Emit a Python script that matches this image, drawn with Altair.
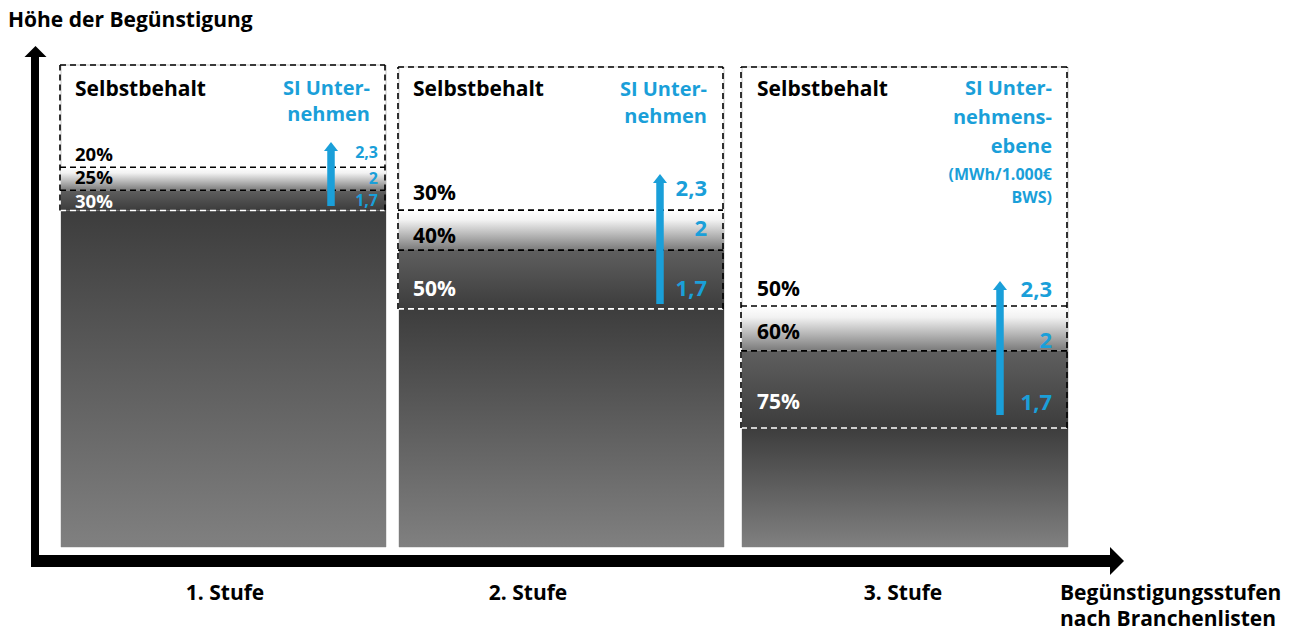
import altair as alt
import pandas as pd

# ---------------- data ----------------
stufen = ["1. Stufe", "2. Stufe", "3. Stufe"]
selbstbehalt = [["20%", "25%", "30%"], ["30%", "40%", "50%"], ["50%", "60%", "75%"]]
si_werte = ["2,3", "2", "1,7"]
si_titel = [["SI Unter-", "nehmen"], ["SI Unter-", "nehmen"], ["SI Unter-", "nehmens-", "ebene"]]
si_einheit = ["(MWh/1.000€", "BWS)"]
# Höhe der Begünstigung (0 = Grundlinie, 100 = Oberkante des Kastens)
hoehe_oben = [100.0, 99.6, 99.6]
hoehe_grenze_a = [78.8, 69.9, 50.0]
hoehe_grenze_b = [74.0, 61.6, 40.7]
hoehe_balken = [69.8, 49.4, 24.7]

# ---------------- layout ----------------
W, H = 1296, 632
BASE_PX = 547
PX_PER_UNIT = 4.82


def hy(px):
    return (BASE_PX - px) / PX_PER_UNIT


Y_DOMAIN = [hy(H), hy(0)]
col_left = [61, 399, 742]
col_right = [386, 724, 1068]
box_left = [60, 398, 741]
box_right = [385, 723, 1067]
arrow_x = [331, 660, 1000]
arrow_bottom_px = [206, 304, 415]
arrow_top_px = [142, 174, 281]
pct_x = [75, 413, 757]
pct_y_px = [[155, 178, 202], [194, 237, 290], [290, 333, 403]]
pct_fs = [18.5, 21, 21]
pct_col = ["black", "black", "white"]
val_x = [378, 707, 1052]
val_y_px = [[153, 179, 201], [189, 229, 289], [290, 341, 403]]
val_fs = [16, 22, 22]
head_x = [370, 707, 1052]
head_y_px = [[89, 115], [90, 117], [89, 118, 147]]
unit_y_px = [175, 198]
stufe_x = [225, 528, 903]

BLUE = "#1a9fd9"
FONT = "Open Sans"
DASH = [6, 4]
FS = 21

xs = alt.Scale(domain=[0, W], nice=False, zero=False)
ys = alt.Scale(domain=Y_DOMAIN, nice=False, zero=False)


def X(f="x"):
    return alt.X(f"{f}:Q", scale=xs, axis=None)


def Y(f="y"):
    return alt.Y(f"{f}:Q", scale=ys, axis=None)


cols = pd.DataFrame({
    "stufe": stufen,
    "xl": col_left, "xr": col_right,
    "top": hoehe_oben, "a": hoehe_grenze_a, "b": hoehe_grenze_b, "bar": hoehe_balken,
    "zero": [0.0, 0.0, 0.0],
})

outline = alt.Chart(cols).mark_rect(fill="white", stroke="#c8c8c8", strokeWidth=1).encode(
    x=X("xl"), x2="xr", y=Y("zero"), y2="top")

grad_main = alt.LinearGradient(gradient="linear", x1=0, x2=0, y1=0, y2=1,
                               stops=[alt.GradientStop(offset=0, color="#3d3d3d"),
                                      alt.GradientStop(offset=1, color="#808080")])
grad_a = alt.LinearGradient(gradient="linear", x1=0, x2=0, y1=0, y2=1,
                            stops=[alt.GradientStop(offset=0, color="#ffffff"),
                                   alt.GradientStop(offset=0.25, color="#f2f2f2"),
                                   alt.GradientStop(offset=1, color="#7a7a7a")])
grad_b = alt.LinearGradient(gradient="linear", x1=0, x2=0, y1=0, y2=1,
                            stops=[alt.GradientStop(offset=0, color="#5f5f5f"),
                                   alt.GradientStop(offset=1, color="#3c3c3c")])

bar_main = alt.Chart(cols).mark_rect(fill=grad_main).encode(
    x=X("xl"), x2="xr", y=Y("zero"), y2="bar")
bar_a = alt.Chart(cols).mark_rect(fill=grad_a).encode(
    x=X("xl"), x2="xr", y=Y("b"), y2="a")
bar_b = alt.Chart(cols).mark_rect(fill=grad_b).encode(
    x=X("xl"), x2="xr", y=Y("bar"), y2="b")

# dashed lines
hlines = []
for i in range(3):
    for lvl, col in [(hoehe_oben[i], "black"), (hoehe_grenze_a[i], "black"),
                     (hoehe_grenze_b[i], "black"), (hoehe_balken[i], "white")]:
        hlines.append({"x": box_left[i], "x2": box_right[i], "y": lvl, "c": col})
hl = pd.DataFrame(hlines)
hrule = alt.Chart(hl).mark_rule(strokeDash=DASH, strokeWidth=1.6).encode(
    x=X("x"), x2="x2", y=Y("y"), color=alt.Color("c:N", scale=None))

vlines = []
for i in range(3):
    for xv in (box_left[i], box_right[i]):
        vlines.append({"x": xv, "y": hoehe_balken[i], "y2": hoehe_oben[i]})
vl = pd.DataFrame(vlines)
vrule = alt.Chart(vl).mark_rule(strokeDash=DASH, strokeWidth=1.6, color="black").encode(
    x=X("x"), y=Y("y"), y2="y2")

# blue arrows
arr = pd.DataFrame({
    "x": arrow_x,
    "y": [hy(p) for p in arrow_bottom_px],
    "y2": [hy(p + 7) for p in arrow_top_px],
    "yh": [hy(p + 4.5) for p in arrow_top_px],
})
arr_shaft = alt.Chart(arr).mark_rule(color=BLUE, strokeWidth=7.5).encode(
    x=X("x"), y=Y("y"), y2="y2")
arr_head = alt.Chart(arr).mark_point(
    shape="M-1,0.64L0,-0.64L1,0.64Z", size=196, filled=True, fill=BLUE, opacity=1, strokeWidth=0
).encode(x=X("x"), y=Y("yh"))

# axis arrows
ax_v = pd.DataFrame({"x": [35], "y": [hy(567)], "y2": [hy(56)]})
ax_h = pd.DataFrame({"x": [31], "x2": [1111], "y": [hy(561)]})
axis_v = alt.Chart(ax_v).mark_rule(color="black", strokeWidth=8).encode(x=X("x"), y=Y("y"), y2="y2")
axis_h = alt.Chart(ax_h).mark_rule(color="black", strokeWidth=12).encode(x=X("x"), x2="x2", y=Y("y"))
head_v = alt.Chart(pd.DataFrame({"x": [35.5], "y": [hy(51.5)]})).mark_point(
    shape="M-1,0.5L0,-0.5L1,0.5Z", size=484, filled=True, fill="black", opacity=1, strokeWidth=0
).encode(x=X("x"), y=Y("y"))
head_h = alt.Chart(pd.DataFrame({"x": [1117], "y": [hy(561)]})).mark_point(
    shape="M-0.5,-1L0.5,0L-0.5,1Z", size=784, filled=True, fill="black", opacity=1, strokeWidth=0
).encode(x=X("x"), y=Y("y"))

# texts
left_t, right_t, center_t = [], [], []
left_t.append({"x": 8, "y": hy(21), "t": "Höhe der Begünstigung", "c": "black", "fs": FS})
for i in range(3):
    left_t.append({"x": pct_x[i], "y": hy(90), "t": "Selbstbehalt", "c": "black", "fs": FS})
    for j in range(3):
        left_t.append({"x": pct_x[i], "y": hy(pct_y_px[i][j]), "t": selbstbehalt[i][j],
                       "c": pct_col[j], "fs": pct_fs[i]})
        right_t.append({"x": val_x[i], "y": hy(val_y_px[i][j]), "t": si_werte[j],
                        "c": BLUE, "fs": val_fs[i]})
    for k, line in enumerate(si_titel[i]):
        right_t.append({"x": head_x[i], "y": hy(head_y_px[i][k]), "t": line, "c": BLUE, "fs": 20})
    center_t.append({"x": stufe_x[i], "y": hy(594), "t": stufen[i], "c": "black", "fs": FS})
for k, line in enumerate(si_einheit):
    right_t.append({"x": head_x[2], "y": hy(unit_y_px[k]), "t": line, "c": BLUE, "fs": 16})
left_t.append({"x": 1060, "y": hy(594), "t": "Begünstigungsstufen", "c": "black", "fs": FS})
left_t.append({"x": 1060, "y": hy(620), "t": "nach Branchenlisten", "c": "black", "fs": FS})


def text_layer(rows, align):
    return alt.Chart(pd.DataFrame(rows)).mark_text(
        align=align, baseline="middle", font=FONT, fontWeight="bold"
    ).encode(x=X("x"), y=Y("y"), text="t:N",
             color=alt.Color("c:N", scale=None), size=alt.Size("fs:Q", scale=None))


chart = alt.layer(
    outline, bar_main, bar_a, bar_b, hrule, vrule, arr_shaft, arr_head,
    axis_v, axis_h, head_v, head_h,
    text_layer(left_t, "left"), text_layer(right_t, "right"), text_layer(center_t, "center"),
).properties(
    width=W, height=H, padding=0, autosize=alt.AutoSizeParams(type="none"), background="white"
).configure_view(stroke=None)

chart.save("out.html", embed_options={"renderer": "svg", "actions": False})
